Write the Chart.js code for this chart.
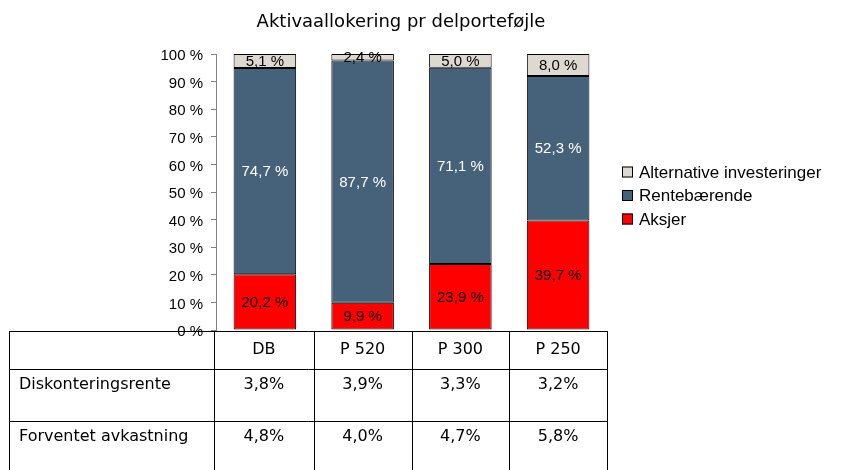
<!DOCTYPE html>
<html>
<head>
<meta charset="utf-8">
<script src="https://cdn.jsdelivr.net/npm/chart.js@4.4.1/dist/chart.umd.min.js"></script>
<style>
  html, body { margin: 0; padding: 0; background: #fff; }
  #wrap { width: 842px; height: 470px; }
</style>
</head>
<body>
<div id="wrap"><canvas id="chart" width="842" height="470"></canvas></div>
<script>
// Aktivaallokering pr delporteføjle — stacked bars with a table underneath

const chartTitle = 'Aktivaallokering pr delporteføjle';
const categories = ['DB', 'P 520', 'P 300', 'P 250'];
const aksjer = [20.2, 9.9, 23.9, 39.7];
const rentebaerende = [74.7, 87.7, 71.1, 52.3];
const alternative = [5.1, 2.4, 5.0, 8.0];
const yTicks = [0, 10, 20, 30, 40, 50, 60, 70, 80, 90, 100];

const rowLabels = ['Diskonteringsrente', 'Forventet avkastning'];
const diskonteringsrente = ['3,8%', '3,9%', '3,3%', '3,2%'];
const forventetAvkastning = ['4,8%', '4,0%', '4,7%', '5,8%'];

const COLORS = {
  aksjer: '#ff0000',
  rente: '#46627a',
  alt: '#ddd9d0'
};

function fmtPct(v) {
  return v.toFixed(1).replace('.', ',') + ' %';
}

// title, centred over plot + legend block like the original
const titlePlugin = {
  id: 'titlePlugin',
  afterDraw(chart) {
    const ctx = chart.ctx;
    ctx.save();
    ctx.font = '18px "DejaVu Sans", Verdana, sans-serif';
    ctx.fillStyle = '#000';
    ctx.textAlign = 'center';
    ctx.textBaseline = 'middle';
    ctx.fillText(chartTitle, 401, 22);
    ctx.restore();
  }
};

// value labels centred in each segment
const segmentLabels = {
  id: 'segmentLabels',
  afterDatasetsDraw(chart) {
    const ctx = chart.ctx;
    ctx.save();
    ctx.font = '15px "Liberation Sans", Arial, sans-serif';
    ctx.textAlign = 'center';
    ctx.textBaseline = 'middle';
    chart.data.datasets.forEach((ds, di) => {
      const meta = chart.getDatasetMeta(di);
      meta.data.forEach((bar, i) => {
        ctx.fillStyle = ds.labelColor;
        ctx.fillText(fmtPct(ds.data[i]), bar.x, (bar.y + bar.base) / 2 + 1);
      });
    });
    ctx.restore();
  }
};

// legend on the right, top item = last dataset
const sideLegend = {
  id: 'sideLegend',
  afterDraw(chart) {
    const ctx = chart.ctx;
    const x = 622, y0 = 172, step = 23.5, box = 11;
    ctx.save();
    ctx.font = '17px "Liberation Sans", Arial, sans-serif';
    ctx.textBaseline = 'middle';
    ctx.textAlign = 'left';
    const list = chart.data.datasets.slice().reverse();
    list.forEach((ds, i) => {
      const y = y0 + i * step;
      ctx.fillStyle = ds.backgroundColor;
      ctx.fillRect(x, y - box / 2, box, box);
      ctx.strokeStyle = '#000';
      ctx.lineWidth = 1;
      ctx.strokeRect(x + 0.5, y - box / 2 + 0.5, box - 1, box - 1);
      ctx.fillStyle = '#000';
      ctx.fillText(ds.label, x + 17, y + 1);
    });
    ctx.restore();
  }
};

// data table under the plot, columns follow the category scale
const dataTable = {
  id: 'dataTable',
  afterDraw(chart) {
    const ctx = chart.ctx;
    const xs = chart.scales.x;
    const half = (xs.getPixelForValue(1) - xs.getPixelForValue(0)) / 2;
    const left = 9;
    const edges = [left, xs.getPixelForValue(0) - half - 2]
      .concat(categories.map((c, i) => xs.getPixelForValue(i) + half));
    const right = edges[edges.length - 1];
    const rows = [331, 369, 421, 473];

    ctx.save();
    ctx.strokeStyle = '#000';
    ctx.lineWidth = 1;
    ctx.beginPath();
    rows.forEach(y => {
      ctx.moveTo(left, Math.round(y) + 0.5);
      ctx.lineTo(Math.round(right) + 1, Math.round(y) + 0.5);
    });
    edges.forEach(x => {
      ctx.moveTo(Math.round(x) + 0.5, rows[0]);
      ctx.lineTo(Math.round(x) + 0.5, rows[rows.length - 1]);
    });
    ctx.stroke();

    ctx.fillStyle = '#000';
    ctx.font = '16px "DejaVu Sans", Verdana, sans-serif';
    ctx.textBaseline = 'middle';
    ctx.textAlign = 'center';
    categories.forEach((c, i) => {
      ctx.fillText(c, (edges[i + 1] + edges[i + 2]) / 2, (rows[0] + rows[1]) / 2);
    });
    const body = [diskonteringsrente, forventetAvkastning];
    body.forEach((vals, r) => {
      const y = rows[r + 1] + 16;
      ctx.textAlign = 'left';
      ctx.fillText(rowLabels[r], 19, y);
      ctx.textAlign = 'center';
      vals.forEach((v, i) => {
        ctx.fillText(v, (edges[i + 1] + edges[i + 2]) / 2, y);
      });
    });
    ctx.restore();
  }
};

new Chart(document.getElementById('chart'), {
  type: 'bar',
  data: {
    labels: categories,
    datasets: [
      { label: 'Aksjer', data: aksjer, backgroundColor: COLORS.aksjer, labelColor: '#000' },
      { label: 'Rentebærende', data: rentebaerende, backgroundColor: COLORS.rente, labelColor: '#fff' },
      { label: 'Alternative investeringer', data: alternative, backgroundColor: COLORS.alt, labelColor: '#000' }
    ].map(ds => Object.assign(ds, {
      borderColor: '#000',
      borderWidth: 1,
      borderSkipped: false,
      barPercentage: 0.64,
      categoryPercentage: 1
    }))
  },
  options: {
    responsive: false,
    animation: false,
    events: [],
    layout: { padding: { left: 0, right: 235, top: 54, bottom: 140 } },
    plugins: {
      legend: { display: false },
      tooltip: { enabled: false },
      title: { display: false }
    },
    scales: {
      x: {
        display: false,
        stacked: true
      },
      y: {
        stacked: true,
        min: 0,
        max: 100,
        afterBuildTicks(scale) {
          scale.ticks = yTicks.map(v => ({ value: v }));
        },
        afterFit(scale) {
          scale.width = 216;
        },
        ticks: {
          color: '#000',
          padding: 8,
          labelOffset: 2,
          font: { family: '"Liberation Sans", Arial, sans-serif', size: 15 },
          callback: v => v + ' %'
        },
        grid: {
          drawOnChartArea: false,
          drawTicks: true,
          tickLength: 5,
          color: '#808080'
        },
        border: { display: true, color: '#808080' }
      }
    }
  },
  plugins: [segmentLabels, sideLegend, dataTable, titlePlugin]
});
</script>
</body>
</html>
